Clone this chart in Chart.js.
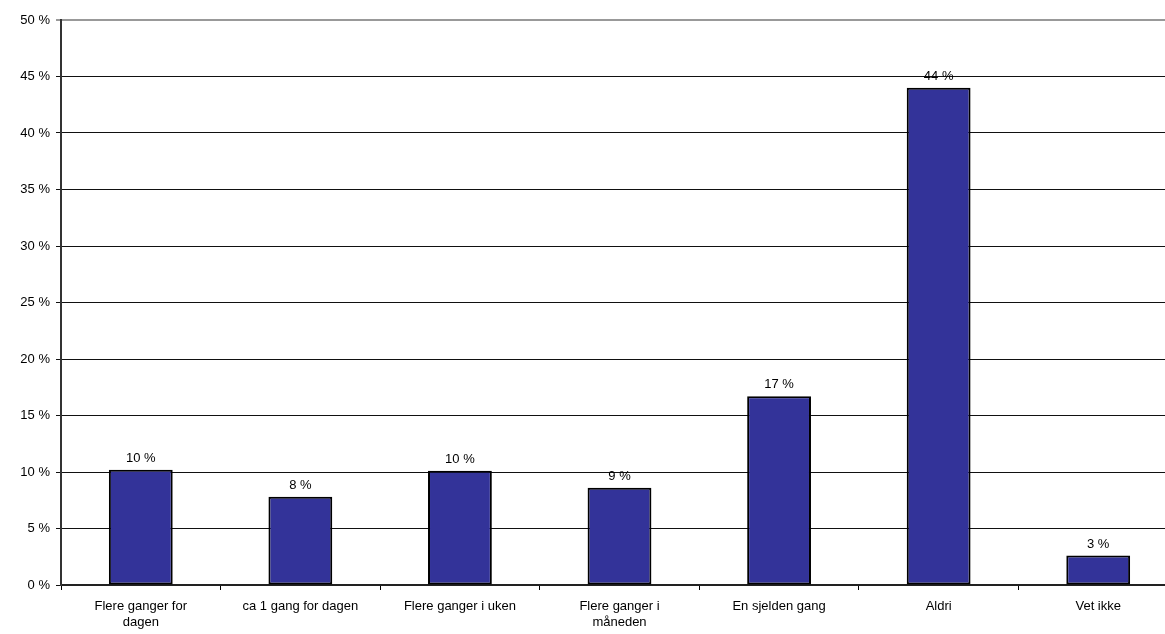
<!DOCTYPE html>
<html>
<head>
<meta charset="utf-8">
<script src="https://cdn.jsdelivr.net/npm/chart.js@4/dist/chart.umd.min.js"></script>
<style>
  html, body { margin: 0; padding: 0; background: #fff; overflow: hidden; }
  #wrap { width: 1179px; height: 634px; }
</style>
</head>
<body>
<div id="wrap"><canvas id="barChart"></canvas></div>
<script>
const categories = [
  ["Flere ganger for", "dagen"],
  "ca 1 gang for dagen",
  "Flere ganger i uken",
  ["Flere ganger i", "måneden"],
  "En sjelden gang",
  "Aldri",
  "Vet ikke"
];
const values = [10.2, 7.8, 10.1, 8.6, 16.7, 44.0, 2.6];
const valueLabels = ["10 %", "8 %", "10 %", "9 %", "17 %", "44 %", "3 %"];

Chart.defaults.font.family = "'Liberation Sans', Arial, sans-serif";
Chart.defaults.font.size = 13;
Chart.defaults.color = '#000';

// labels above bars
var barLabels = {
  id: 'barLabels',
  afterDatasetsDraw: function(chart) {
    var ctx = chart.ctx;
    var meta = chart.getDatasetMeta(0);
    ctx.save();
    ctx.font = "13px 'Liberation Sans', Arial, sans-serif";
    ctx.fillStyle = '#000';
    ctx.textAlign = 'center';
    ctx.textBaseline = 'bottom';
    meta.data.forEach(function(bar, i) {
      ctx.fillText(valueLabels[i], bar.x, bar.y - 5);
    });
    ctx.restore();
  }
};

var barChart = new Chart(document.getElementById('barChart'), {
  type: 'bar',
  data: {
    labels: categories,
    datasets: [{
      data: values,
      backgroundColor: '#333399',
      borderColor: '#000',
      borderWidth: 2,
      borderSkipped: false,
      barPercentage: 0.4,
      categoryPercentage: 1.0
    }]
  },
  options: {
    responsive: true,
    maintainAspectRatio: false,
    animation: false,
    layout: { padding: { top: 20, right: 1, left: 0, bottom: 0 } },
    plugins: {
      legend: { display: false },
      tooltip: { enabled: false }
    },
    scales: {
      x: {
        offset: true,
        grid: {
          offset: true,
          drawOnChartArea: false,
          color: '#000',
          tickLength: 5
        },
        border: { color: '#222', width: 2 },
        ticks: { padding: 9, maxRotation: 0, autoSkip: false },
        afterFit: function(axis) { axis.height = 49; }
      },
      y: {
        min: 0,
        max: 50,
        ticks: {
          stepSize: 5,
          padding: 6,
          callback: function(v) { return v + ' %'; }
        },
        grid: {
          color: function(c) { return c.tick && c.tick.value === 50 ? '#999' : '#111'; },
          lineWidth: function(c) { return c.tick && c.tick.value === 50 ? 2 : 1; },
          tickLength: 5
        },
        border: { color: '#333', width: 2 },
        afterFit: function(axis) { axis.width = 61; }
      }
    }
  },
  plugins: [barLabels]
});
</script>
</body>
</html>
